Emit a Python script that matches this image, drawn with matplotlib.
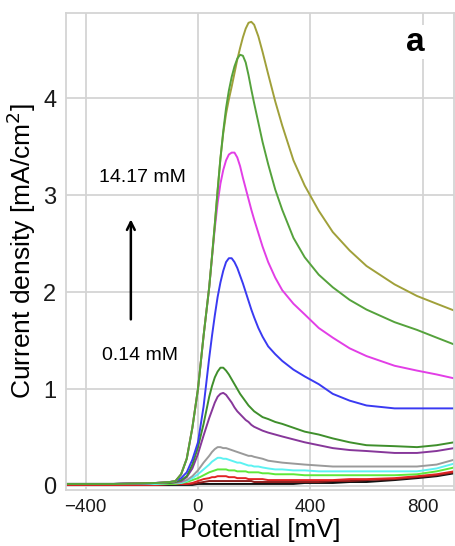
"""Linear sweep voltammograms, panel a."""

import matplotlib
matplotlib.use("Agg")
import matplotlib.pyplot as plt

plt.rcParams["font.family"] = ["Liberation Sans", "DejaVu Sans"]

# potential grid shared by every sweep [mV]
potential = [-470, -300, -150, -100, -80, -60, -40, -20, 0, 20, 40,
             50, 60, 70, 80, 90, 100, 110, 120, 130, 140,
             150, 160, 170, 180, 190, 200, 215, 230, 250, 275,
             300, 340, 380, 430, 480, 540, 600, 700, 780, 850, 912]

# current density [mA/cm2], lowest concentration first
j_black = [0.01, 0.01, 0.01, 0.01, 0.01, 0.01, 0.01, 0.01, 0.02, 0.02, 0.02,
           0.02, 0.02, 0.02, 0.02, 0.02, 0.02, 0.02, 0.02, 0.02, 0.02,
           0.02, 0.02, 0.02, 0.02, 0.02, 0.02, 0.02, 0.02, 0.02, 0.02,
           0.02, 0.02, 0.03, 0.03, 0.03, 0.04, 0.04, 0.06, 0.08, 0.10, 0.13]
j_darkred = [0.01, 0.01, 0.01, 0.02, 0.02, 0.02, 0.02, 0.02, 0.03, 0.04, 0.05,
             0.05, 0.05, 0.05, 0.05, 0.05, 0.05, 0.05, 0.05, 0.05, 0.05,
             0.05, 0.05, 0.05, 0.05, 0.05, 0.04, 0.04, 0.04, 0.04, 0.04,
             0.04, 0.04, 0.04, 0.04, 0.05, 0.05, 0.06, 0.07, 0.09, 0.11, 0.14]
j_red = [0.01, 0.01, 0.01, 0.02, 0.02, 0.02, 0.02, 0.03, 0.05, 0.07, 0.08,
         0.09, 0.09, 0.10, 0.10, 0.10, 0.10, 0.09, 0.09, 0.09, 0.08,
         0.08, 0.08, 0.08, 0.07, 0.07, 0.07, 0.07, 0.07, 0.06, 0.06,
         0.06, 0.06, 0.06, 0.06, 0.06, 0.07, 0.07, 0.08, 0.10, 0.12, 0.15]
j_lime = [0.02, 0.02, 0.02, 0.02, 0.02, 0.03, 0.04, 0.06, 0.08, 0.11, 0.14,
          0.15, 0.16, 0.17, 0.17, 0.17, 0.17, 0.16, 0.16, 0.16, 0.15,
          0.15, 0.15, 0.15, 0.14, 0.14, 0.14, 0.14, 0.13, 0.13, 0.12,
          0.12, 0.12, 0.11, 0.11, 0.11, 0.11, 0.11, 0.11, 0.12, 0.15, 0.19]
j_cyan = [0.02, 0.02, 0.02, 0.03, 0.03, 0.03, 0.05, 0.08, 0.12, 0.17, 0.22,
          0.25, 0.27, 0.29, 0.29, 0.28, 0.28, 0.27, 0.26, 0.25, 0.24,
          0.24, 0.23, 0.22, 0.21, 0.21, 0.20, 0.20, 0.19, 0.18, 0.17,
          0.17, 0.16, 0.16, 0.15, 0.15, 0.15, 0.15, 0.15, 0.15, 0.18, 0.23]
j_gray = [0.02, 0.02, 0.03, 0.03, 0.03, 0.04, 0.06, 0.10, 0.16, 0.24, 0.31,
          0.35, 0.38, 0.40, 0.40, 0.39, 0.39, 0.38, 0.37, 0.36, 0.35,
          0.34, 0.33, 0.32, 0.31, 0.31, 0.30, 0.29, 0.28, 0.26, 0.25,
          0.24, 0.23, 0.22, 0.21, 0.20, 0.20, 0.20, 0.20, 0.20, 0.22, 0.27]
j_purple = [0.02, 0.02, 0.03, 0.03, 0.04, 0.05, 0.09, 0.18, 0.33, 0.52, 0.70,
            0.78, 0.86, 0.92, 0.95, 0.96, 0.94, 0.90, 0.86, 0.81, 0.77,
            0.74, 0.71, 0.68, 0.66, 0.63, 0.61, 0.59, 0.57, 0.55, 0.53,
            0.51, 0.48, 0.45, 0.42, 0.39, 0.37, 0.36, 0.34, 0.34, 0.36, 0.39]
j_green2 = [0.02, 0.02, 0.03, 0.03, 0.04, 0.06, 0.10, 0.22, 0.40, 0.64, 0.92,
            1.03, 1.12, 1.18, 1.22, 1.22, 1.19, 1.15, 1.10, 1.05, 1.00,
            0.95, 0.91, 0.87, 0.83, 0.80, 0.77, 0.74, 0.71, 0.69, 0.66,
            0.64, 0.60, 0.56, 0.53, 0.49, 0.45, 0.42, 0.41, 0.40, 0.42, 0.45]
j_blue = [0.02, 0.02, 0.03, 0.04, 0.05, 0.08, 0.14, 0.27, 0.45, 0.82, 1.32,
          1.55, 1.76, 1.95, 2.10, 2.22, 2.31, 2.35, 2.35, 2.31, 2.25,
          2.17, 2.09, 2.00, 1.91, 1.82, 1.74, 1.63, 1.54, 1.44, 1.36,
          1.29, 1.20, 1.13, 1.05, 0.95, 0.88, 0.83, 0.80, 0.80, 0.80, 0.80]
j_magenta = [0.02, 0.02, 0.03, 0.04, 0.05, 0.12, 0.28, 0.60, 1.00, 1.55, 2.05,
             2.36, 2.66, 2.92, 3.12, 3.26, 3.36, 3.42, 3.44, 3.44, 3.39,
             3.30, 3.18, 3.07, 2.96, 2.85, 2.75, 2.61, 2.47, 2.31, 2.15,
             2.02, 1.88, 1.77, 1.63, 1.53, 1.42, 1.34, 1.24, 1.19, 1.15, 1.11]
j_green = [0.02, 0.02, 0.03, 0.04, 0.05, 0.12, 0.28, 0.60, 1.00, 1.55, 2.05,
           2.37, 2.70, 3.05, 3.38, 3.66, 3.90, 4.08, 4.22, 4.33, 4.41,
           4.45, 4.44, 4.37, 4.24, 4.09, 3.95, 3.75, 3.55, 3.32, 3.06,
           2.85, 2.56, 2.36, 2.18, 2.05, 1.92, 1.82, 1.69, 1.61, 1.53, 1.46]
j_olive = [0.02, 0.02, 0.03, 0.04, 0.05, 0.12, 0.28, 0.60, 1.00, 1.55, 2.05,
           2.37, 2.70, 3.05, 3.38, 3.64, 3.84, 3.99, 4.12, 4.26, 4.40,
           4.52, 4.63, 4.72, 4.78, 4.79, 4.76, 4.64, 4.48, 4.25, 3.97,
           3.72, 3.36, 3.10, 2.84, 2.62, 2.43, 2.27, 2.08, 1.96, 1.88, 1.81]

sweeps = [
    (j_black, "#111111"),
    (j_darkred, "#8b1c1c"),
    (j_red, "#e02424"),
    (j_lime, "#5ee83a"),
    (j_cyan, "#5cf2f2"),
    (j_gray, "#9a9a9a"),
    (j_purple, "#87379a"),
    (j_green2, "#3f8f2c"),
    (j_blue, "#3a3af2"),
    (j_magenta, "#e23ee6"),
    (j_olive, "#a0a03a"),
    (j_green, "#55a23c"),
]

fig = plt.figure(figsize=(4.55, 5.46), dpi=100)
ax = fig.add_axes([0.145, 0.103, 0.853, 0.873])

for j, color in sweeps:
    ax.plot(potential, j, color=color, linewidth=1.4)

ax.set_xlim(-470, 912)
ax.set_ylim(-0.04, 4.88)
ax.set_xticks([-400, 0, 400, 800])
ax.set_yticks([0, 1, 2, 3, 4])
ax.grid(True, color="#d4d4d4", linewidth=1.3)
ax.set_axisbelow(True)
for s in ax.spines.values():
    s.set_color("#d4d4d4")
    s.set_linewidth(1.3)
ax.tick_params(axis="both", length=0, colors="#1a1a1a")
ax.tick_params(axis="x", labelsize=13.5, pad=7)
ax.tick_params(axis="y", labelsize=17, pad=7)

ax.set_xlabel("Potential [mV]", fontsize=18.5, labelpad=1)
ax.set_ylabel("Current density [mA/cm$^2$]", fontsize=19, labelpad=4)

ax.text(773, 4.58, "a", fontsize=24, fontweight="bold", ha="center", va="center",
        bbox=dict(facecolor="white", edgecolor="none", pad=1))
ax.text(-198, 3.18, "14.17 mM", fontsize=14, ha="center", va="center")
ax.text(-207, 1.35, "0.14 mM", fontsize=14, ha="center", va="center")
ax.annotate("", xy=(-239, 2.78), xytext=(-239, 1.69),
            arrowprops=dict(arrowstyle="->", color="black", lw=1.8,
                            mutation_scale=14))

fig.savefig("out.png", dpi=100)
